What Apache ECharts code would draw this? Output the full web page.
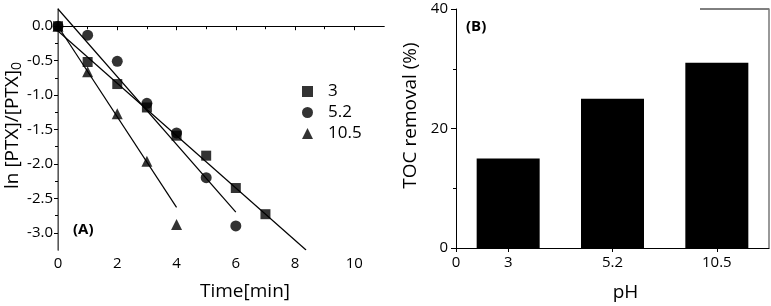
<!DOCTYPE html>
<html>
<head>
<meta charset="utf-8">
<script src="https://cdn.jsdelivr.net/npm/echarts@6/dist/echarts.min.js"></script>
<style>html,body{margin:0;padding:0;background:#fff;}#c{width:771px;height:306px;}</style>
</head>
<body>
<div id="c"></div>
<script>
// ---- Panel A data: ln[PTX]/[PTX]0 vs time ----
var timeMin = [0, 1, 2, 3, 4, 5, 6, 7];
var pH3Values = [0.0, -0.52, -0.84, -1.18, -1.59, -1.88, -2.35, -2.73];
var timeMin52 = [0, 1, 2, 3, 4, 5, 6];
var pH52Values = [0.0, -0.13, -0.51, -1.12, -1.55, -2.20, -2.90];
var timeMin105 = [0, 1, 2, 3, 4];
var pH105Values = [0.0, -0.66, -1.27, -1.96, -2.88];
// linear fit endpoints (time, value)
var fit3 = [[0, -0.07], [8.37, -3.25]];
var fit52 = [[0, 0.25], [6, -2.70]];
var fit105 = [[0, 0.0], [4, -2.63]];
var seriesNames = ['3', '5.2', '10.5'];
var xTicksA = [0, 2, 4, 6, 8, 10];
var xMinorA = [1, 3, 5, 7, 9];
var yTicksA = [0.0, -0.5, -1.0, -1.5, -2.0, -2.5, -3.0];
var yMinorA = [-0.25, -0.75, -1.25, -1.75, -2.25, -2.75];

// ---- Panel B data: TOC removal vs pH ----
var pHCategories = ['3', '5.2', '10.5'];
var tocRemoval = [15, 25, 31];
var xTicksB = [0, 0.5, 1.5, 2.5];
var xTickLabelsB = ['0', '3', '5.2', '10.5'];
var yTicksB = [0, 20, 40];
var yMinorB = [10, 30];

function zipXY(xs, ys) { return xs.map(function (x, i) { return [x, ys[i]]; }); }

var FONT = 'Open Sans';
var lbl = { color: '#000', fontFamily: FONT, fontSize: 15 };
var black = { color: '#000', width: 1 };

var chart = echarts.init(document.getElementById('c'), null, { renderer: 'canvas' });
var option = {
  animation: false,
  backgroundColor: '#fff',
  textStyle: { fontFamily: FONT },
  grid: [
    { left: 58, top: 9, width: 326, height: 241, containLabel: false, outerBoundsMode: 'none' },
    { left: 456, top: 9, width: 313, height: 239, containLabel: false, outerBoundsMode: 'none' }
  ],
  legend: {
    data: seriesNames,
    orient: 'vertical',
    left: 302,
    top: 83,
    padding: 0,
    itemWidth: 11,
    itemHeight: 11,
    itemGap: 4,
    textStyle: { color: '#000', fontFamily: FONT, fontSize: 17, padding: [0, 0, 0, 10] }
  },
  xAxis: [
    {
      gridIndex: 0, type: 'value', min: 0, max: 11, position: 'bottom',
      name: 'Time[min]', nameLocation: 'middle', nameGap: 32, nameMoveOverlap: false,
      nameTextStyle: { color: '#000', fontFamily: FONT, fontSize: 19, padding: [0, 0, 0, 48] },
      axisLine: { lineStyle: black },
      axisTick: { show: true, inside: false, length: 4, customValues: xTicksA, lineStyle: black },
      axisLabel: Object.assign({ customValues: xTicksA, margin: 6 }, lbl),
      splitLine: { show: false }
    },
    {
      gridIndex: 0, type: 'value', min: 0, max: 11, position: 'bottom',
      axisLine: { show: false },
      axisTick: { show: true, length: 3, customValues: xMinorA, lineStyle: black },
      axisLabel: { show: false }, splitLine: { show: false }
    },
    {
      gridIndex: 0, type: 'value', min: 0, max: 11, position: 'top',
      axisLine: { lineStyle: { color: '#000', width: 1.2 } },
      axisTick: { show: false }, axisLabel: { show: false }, splitLine: { show: false }
    },
    {
      gridIndex: 1, type: 'value', min: 0, max: 3, position: 'bottom',
      name: 'pH', nameLocation: 'middle', nameGap: 35, nameMoveOverlap: false,
      nameTextStyle: { color: '#000', fontFamily: FONT, fontSize: 19, padding: [0, 0, 0, 26] },
      axisLine: { lineStyle: black },
      axisTick: { show: true, length: 4, customValues: xTicksB, lineStyle: black },
      axisLabel: Object.assign({
        customValues: xTicksB, margin: 7,
        formatter: function (v) { var i = xTicksB.indexOf(v); return i >= 0 ? xTickLabelsB[i] : ''; }
      }, lbl),
      splitLine: { show: false }
    }
  ],
  yAxis: [
    {
      gridIndex: 0, type: 'value', min: -3.25, max: 0.25, position: 'left',
      name: 'ln [PTX]/[PTX]{sub|0}', nameLocation: 'middle', nameGap: 34, nameMoveOverlap: false,
      nameTextStyle: {
        color: '#000', fontFamily: FONT, fontSize: 19, padding: [0, 0, 0, 8],
        rich: { sub: { fontSize: 14, fontFamily: FONT, color: '#000', verticalAlign: 'bottom', padding: [8, 0, 0, 0] } }
      },
      axisLine: { lineStyle: black },
      axisTick: { show: true, length: 4, customValues: yTicksA, lineStyle: black },
      axisLabel: Object.assign({ customValues: yTicksA, margin: 5, formatter: function (v) { return v.toFixed(1); } }, lbl),
      splitLine: { show: false }
    },
    {
      gridIndex: 0, type: 'value', min: -3.25, max: 0.25, position: 'left',
      axisLine: { show: false },
      axisTick: { show: true, length: 3, customValues: yMinorA, lineStyle: black },
      axisLabel: { show: false }, splitLine: { show: false }
    },
    {
      gridIndex: 0, type: 'value', min: -3.25, max: 0.25, position: 'right',
      axisLine: { lineStyle: { color: '#777', width: 1.5 } },
      axisTick: { show: false }, axisLabel: { show: false }, splitLine: { show: false }
    },
    {
      gridIndex: 1, type: 'value', min: 0, max: 40, position: 'left',
      name: 'TOC removal (%)', nameLocation: 'middle', nameGap: 36, nameMoveOverlap: false,
      nameTextStyle: { color: '#000', fontFamily: FONT, fontSize: 19, padding: [0, 0, 0, 26] },
      axisLine: { lineStyle: black },
      axisTick: { show: true, length: 5, customValues: yTicksB, lineStyle: black },
      axisLabel: Object.assign({ customValues: yTicksB, margin: 8 }, lbl),
      splitLine: { show: false }
    },
    {
      gridIndex: 1, type: 'value', min: 0, max: 40, position: 'left',
      axisLine: { show: false },
      axisTick: { show: true, length: 3, customValues: yMinorB, lineStyle: black },
      axisLabel: { show: false }, splitLine: { show: false }
    },
    {
      gridIndex: 1, type: 'value', min: 0, max: 40, position: 'right',
      axisLine: { lineStyle: { color: '#777', width: 1.5 } },
      axisTick: { show: false }, axisLabel: { show: false }, splitLine: { show: false }
    }
  ],
  graphic: [
    { type: 'text', left: 73, top: 222, style: { text: '(A)', fontFamily: FONT, fontSize: 15, fontWeight: 'bold', fill: '#000' } },
    { type: 'text', left: 466, top: 19, style: { text: '(B)', fontFamily: FONT, fontSize: 15, fontWeight: 'bold', fill: '#000' } },
    { type: 'line', shape: { x1: 700, y1: 9, x2: 769, y2: 9 }, style: { stroke: '#000', lineWidth: 1 } }
  ],
  series: [
    { type: 'line', xAxisIndex: 0, yAxisIndex: 0, data: fit3, symbol: 'none', lineStyle: { color: '#000', width: 1.2 }, silent: true, z: 2 },
    { type: 'line', xAxisIndex: 0, yAxisIndex: 0, data: fit52, symbol: 'none', lineStyle: { color: '#000', width: 1.2 }, silent: true, z: 2 },
    { type: 'line', xAxisIndex: 0, yAxisIndex: 0, data: fit105, symbol: 'none', lineStyle: { color: '#000', width: 1.2 }, silent: true, z: 2 },
    { name: seriesNames[2], type: 'scatter', xAxisIndex: 0, yAxisIndex: 0, symbol: 'triangle', symbolSize: 11, itemStyle: { color: '#000' }, data: zipXY(timeMin105, pH105Values), z: 3 },
    { name: seriesNames[1], type: 'scatter', xAxisIndex: 0, yAxisIndex: 0, symbol: 'circle', symbolSize: 11, itemStyle: { color: '#000' }, data: zipXY(timeMin52, pH52Values), z: 4 },
    { name: seriesNames[0], type: 'scatter', xAxisIndex: 0, yAxisIndex: 0, symbol: 'rect', symbolSize: 10, itemStyle: { color: '#000' }, data: zipXY(timeMin, pH3Values), z: 5 },
    {
      type: 'bar', xAxisIndex: 3, yAxisIndex: 3, barWidth: 63,
      itemStyle: { color: '#000' },
      data: tocRemoval.map(function (v, i) { return [i + 0.5, v]; })
    }
  ]
};
chart.setOption(option);
</script>
</body>
</html>
